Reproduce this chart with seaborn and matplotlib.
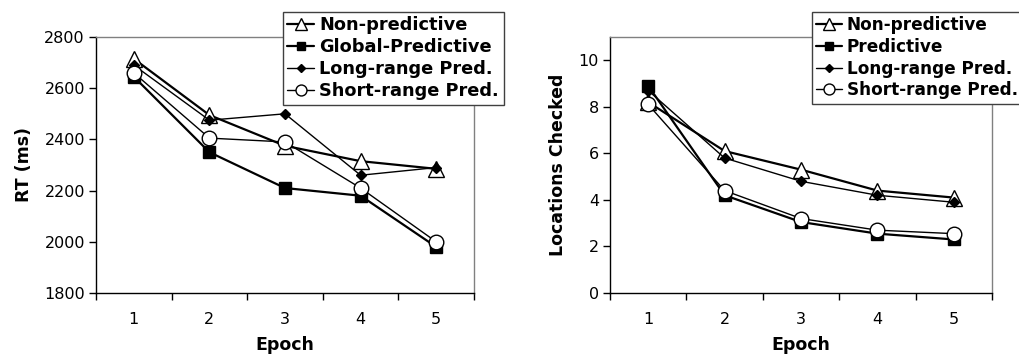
import matplotlib
matplotlib.use("Agg")
import matplotlib.pyplot as plt
import seaborn as sns
import pandas as pd

sns.set_theme(style="white")
plt.rcParams['font.family'] = ['DejaVu Sans']
plt.rcParams['text.color'] = 'black'
plt.rcParams['axes.labelcolor'] = 'black'
plt.rcParams['xtick.color'] = 'black'
plt.rcParams['ytick.color'] = 'black'

epochs = [1, 2, 3, 4, 5]

# Left panel: RT (ms)
rt_nonpred = [2715, 2495, 2375, 2315, 2285]
rt_global = [2645, 2350, 2210, 2180, 1980]
rt_long = [2690, 2475, 2500, 2260, 2290]
rt_short = [2660, 2405, 2390, 2210, 2000]

# Right panel: Locations checked
loc_nonpred = [8.2, 6.1, 5.3, 4.4, 4.1]
loc_pred = [8.9, 4.2, 3.05, 2.55, 2.3]
loc_long = [8.7, 5.8, 4.8, 4.2, 3.9]
loc_short = [8.1, 4.4, 3.2, 2.7, 2.55]

left_labels = ["Non-predictive", "Global-Predictive", "Long-range Pred.", "Short-range Pred."]
right_labels = ["Non-predictive", "Predictive", "Long-range Pred.", "Short-range Pred."]

styles = [
    dict(marker="^", markerfacecolor="white", markersize=11, linewidth=1.6),
    dict(marker="s", markerfacecolor="black", markersize=8, linewidth=1.6),
    dict(marker="D", markerfacecolor="black", markersize=5.5, linewidth=1.0),
    dict(marker="o", markerfacecolor="white", markersize=10.5, linewidth=1.0),
]

fig = plt.figure(figsize=(10.19, 3.59), dpi=100)
W, H = 1019, 359
axL = fig.add_axes([96 / W, 1 - 293 / H, (474 - 96) / W, (293 - 37) / H])
axR = fig.add_axes([610 / W, 1 - 293 / H, (992 - 610) / W, (293 - 37) / H])


def draw(ax, series, labels, ylim, yticks, ylabel, anchor_x, fs):
    for vals, lab, st in zip(series, labels, styles):
        df = pd.DataFrame({"Epoch": epochs, "v": vals})
        sns.lineplot(data=df, x="Epoch", y="v", ax=ax, color="black",
                     markeredgecolor="black", markeredgewidth=1.0,
                     label=lab, legend=False, **st)
    ax.set_xlim(0.5, 5.5)
    ax.set_ylim(*ylim)
    ax.set_yticks(yticks)
    ax.set_xticks(epochs)
    ax.set_xticks([0.5, 1.5, 2.5, 3.5, 4.5, 5.5], minor=True)
    ax.tick_params(axis="x", which="major", length=0, pad=14, labelsize=11.5, colors="black")
    ax.tick_params(axis="x", which="minor", length=5, width=1, direction="out", bottom=True, color="black")
    ax.tick_params(axis="y", which="major", length=5, width=1, direction="out", left=True,
                   labelsize=11.5, colors="black", pad=3)
    ax.set_xlabel("Epoch", fontsize=12.5, fontweight="bold", labelpad=6)
    ax.set_ylabel(ylabel, fontsize=12.5, fontweight="bold", labelpad=8)
    for side in ["left", "bottom"]:
        ax.spines[side].set_color("black")
        ax.spines[side].set_linewidth(1.0)
    for side in ["top", "right"]:
        ax.spines[side].set_color("#808080")
        ax.spines[side].set_linewidth(1.0)
    ax.grid(False)
    leg = ax.legend(loc="upper left", bbox_to_anchor=(anchor_x / W, 1 - 12 / H),
                    bbox_transform=fig.transFigure, frameon=True, fancybox=False,
                    edgecolor="#404040", framealpha=1, borderpad=0.25,
                    labelspacing=0.22, handlelength=1.5, handletextpad=0.3,
                    borderaxespad=0, markerscale=0.75,
                    prop={"weight": "bold", "size": fs})
    leg.get_frame().set_linewidth(1.0)
    leg.set_zorder(10)


draw(axL, [rt_nonpred, rt_global, rt_long, rt_short], left_labels,
     (1800, 2800), [1800, 2000, 2200, 2400, 2600, 2800], "RT (ms)", 283, 12.8)
draw(axR, [loc_nonpred, loc_pred, loc_long, loc_short], right_labels,
     (0, 11), [0, 2, 4, 6, 8, 10], "Locations Checked", 812, 12.2)

fig.savefig("out.png", dpi=100)
